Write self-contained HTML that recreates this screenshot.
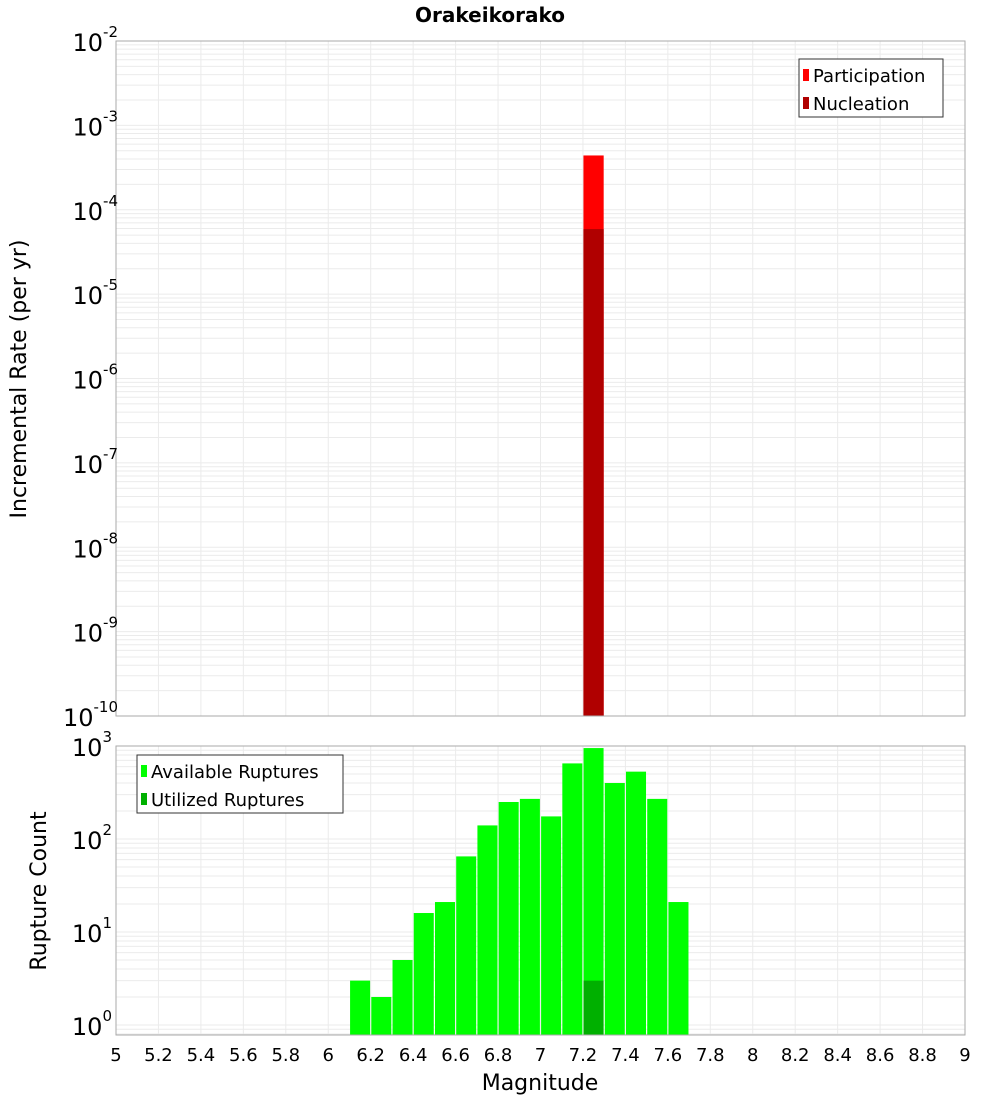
<!DOCTYPE html>
<html><head><meta charset="utf-8"><style>
body{margin:0;background:#fff;font-family:"DejaVu Sans","Liberation Sans",sans-serif}
</style></head><body>
<svg id="c" width="1000" height="1100" xmlns="http://www.w3.org/2000/svg" font-family="DejaVu Sans, Liberation Sans, sans-serif"></svg>
<script>
const xTicks=[5,5.2,5.4,5.6,5.8,6,6.2,6.4,6.6,6.8,7,7.2,7.4,7.6,7.8,8,8.2,8.4,8.6,8.8,9];
const topMags=[7.25];
const participation=[4.4e-4];
const nucleation=[5.9e-5];
const botMags=[6.15,6.25,6.35,6.45,6.55,6.65,6.75,6.85,6.95,7.05,7.15,7.25,7.35,7.45,7.55,7.65];
const available=[3,2,5,16,21,65,140,250,270,175,650,950,400,530,270,21];
const utilMags=[7.25];
const utilized=[3];
const topExps=[-2,-3,-4,-5,-6,-7,-8,-9,-10];
const botExps=[3,2,1,0];

const svg=document.getElementById('c');const NS='http://www.w3.org/2000/svg';
function el(t,a,p){const e=document.createElementNS(NS,t);for(const k in a)e.setAttribute(k,a[k]);(p||svg).appendChild(e);return e;}
const X0=116,X1=965;
const xs=v=>X0+(v-5)/4*(X1-X0);
const T0=41,T1=716;
const ty=v=>T0+(-2-Math.log10(v))*(T1-T0)/8;
const B0=746,BD=93,B1=1035;
const by=v=>B0+(3-Math.log10(v))*BD;

// title
let t=el('text',{x:490,y:22,'text-anchor':'middle','font-size':20,'font-weight':'bold'});t.textContent='Orakeikorako';


function grid(y0,y1,yf,expMin,expMax,name){
  const g=el('g',{});
  for(const xv of xTicks){el('line',{x1:xs(xv),x2:xs(xv),y1:y0,y2:y1,stroke:'#ebebeb'},g);}
  for(let e=expMin;e<=expMax;e++){for(let m=1;m<10;m++){const y=yf(m*Math.pow(10,e));if(y>=y0-0.5&&y<=y1+0.5)el('line',{x1:X0,x2:X1,y1:y,y2:y,stroke:'#ebebeb'},g);}}
}
grid(T0,T1,ty,-10,-3,'top-grid');
grid(B0,B1,by,-1,3,'bottom-grid');

// top bars
const bw=xs(5.1)-xs(5);
topMags.forEach((m,i)=>{
  let r=el('rect',{x:xs(m)-bw/2+0.5,y:ty(participation[i]),width:bw-1,height:T1-ty(participation[i]),fill:'#ff0000'});
  
  r=el('rect',{x:xs(m)-bw/2+0.5,y:ty(nucleation[i]),width:bw-1,height:T1-ty(nucleation[i]),fill:'#b00000'});
  
});
// bottom bars
botMags.forEach((m,i)=>{
  const r=el('rect',{x:xs(m)-bw/2+0.6,y:by(available[i]),width:bw-1.2,height:B1-by(available[i]),fill:'#00ff00'});
  
});
utilMags.forEach((m,i)=>{
  const r=el('rect',{x:xs(m)-bw/2+0.6,y:by(utilized[i]),width:bw-1.2,height:B1-by(utilized[i]),fill:'#00b000'});
  
});

// frames
let f=el('rect',{x:X0,y:T0,width:X1-X0,height:T1-T0,fill:'none',stroke:'#aaa'});

f=el('rect',{x:X0,y:B0,width:X1-X0,height:B1-B0,fill:'none',stroke:'#aaa'});


// y tick labels
function ylab(y,e,name){
  const tt=el('text',{x:112,y:y+10,'text-anchor':'end','font-size':24});
  
  const a=el('tspan',{},tt);a.textContent='10';
  const b=el('tspan',{dy:-14,'font-size':15},tt);b.textContent=String(e);
  tt.setAttribute('x',String(e).length>1?118:112);
}
topExps.forEach(e=>ylab(ty(Math.pow(10,e)),e,'top-y-tick'));
botExps.forEach(e=>ylab(by(Math.pow(10,e)),e,'bottom-y-tick'));

// x tick labels
xTicks.forEach(v=>{const tt=el('text',{x:xs(v),y:1061,'text-anchor':'middle','font-size':18});tt.textContent=String(v);
  });

// axis titles
t=el('text',{x:540,y:1090,'text-anchor':'middle','font-size':22});t.textContent='Magnitude';

t=el('text',{x:0,y:0,'text-anchor':'middle','font-size':22,transform:'translate(26,379) rotate(-90)'});t.textContent='Incremental Rate (per yr)';

t=el('text',{x:0,y:0,'text-anchor':'middle','font-size':22,transform:'translate(46,891) rotate(-90)'});t.textContent='Rupture Count';


// legends
function legend(x,y,w,items,name){
  const g=el('g',{});
  el('rect',{x:x,y:y,width:w,height:58,fill:'#fff',stroke:'#333'},g);
  items.forEach((it,i)=>{
    el('rect',{x:x+4,y:y+10+i*28,width:6,height:12,fill:it[1]},g);
    const tt=el('text',{x:x+14,y:y+23+i*28,'font-size':18},g);tt.textContent=it[0];
    
  });
}
legend(799,59,144,[['Participation','#ff0000'],['Nucleation','#b00000']],'top-legend');
legend(137,755,206,[['Available Ruptures','#00ff00'],['Utilized Ruptures','#00b000']],'bottom-legend');
</script>
</body></html>
